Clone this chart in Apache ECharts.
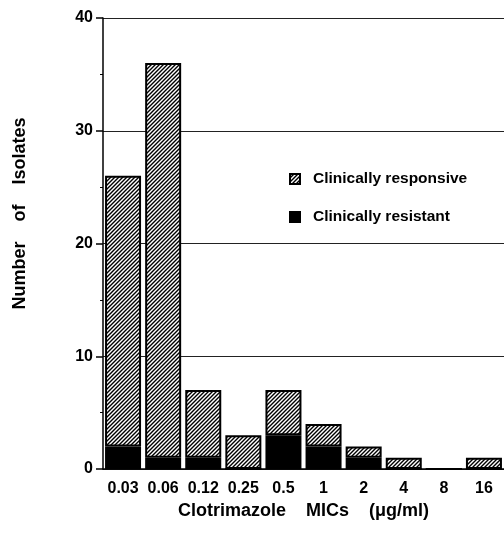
<!DOCTYPE html>
<html>
<head>
<meta charset="utf-8">
<script src="https://cdn.jsdelivr.net/npm/echarts@6/dist/echarts.min.js"></script>
<style>
  html, body { margin: 0; padding: 0; background: #fff; }
  #chart { width: 504px; height: 548px; }
</style>
</head>
<body>
<div id="chart"></div>
<script>
const categories = ['0.03', '0.06', '0.12', '0.25', '0.5', '1', '2', '4', '8', '16']
// stacked: resistant at the bottom, responsive on top
const resistant = [2, 1, 1, 0, 3, 2, 1, 0, 0, 0]
const responsive = [24, 35, 6, 3, 4, 2, 1, 1, 0, 1]

const FONT = '"Liberation Sans", Arial, sans-serif'

// diagonal hatch used for the responsive bars
const makeHatch = () => {
  const c = document.createElement('canvas')
  c.width = 4
  c.height = 4
  const ctx = c.getContext('2d')
  ctx.fillStyle = '#fff'
  ctx.fillRect(0, 0, 4, 4)
  ctx.strokeStyle = '#000'
  ctx.lineWidth = 1.4
  ctx.beginPath()
  ctx.moveTo(0, 4)
  ctx.lineTo(4, 0)
  ctx.moveTo(-1, 1)
  ctx.lineTo(1, -1)
  ctx.moveTo(3, 5)
  ctx.lineTo(5, 3)
  ctx.stroke()
  return c
}

const chart = echarts.init(document.getElementById('chart'))

chart.setOption({
  animation: false,
  backgroundColor: '#fff',
  grid: { left: 103, right: 0, top: 18, bottom: 79 },
  legend: {
    orient: 'vertical',
    left: 284,
    top: 166,
    itemGap: 22,
    itemWidth: 10,
    itemHeight: 10,
    icon: 'rect',
    data: ['Clinically responsive', 'Clinically resistant'],
    textStyle: { fontFamily: FONT, fontWeight: 'bold', fontSize: 15.5, color: '#000', padding: [0, 0, 0, 8] }
  },
  xAxis: {
    type: 'category',
    data: categories,
    name: 'Clotrimazole    MICs    (\u03bcg/ml)',
    nameLocation: 'middle',
    nameGap: 33,
    nameTextStyle: { fontFamily: FONT, fontWeight: 'bold', fontSize: 18, color: '#000' },
    axisLine: { lineStyle: { color: '#000', width: 1.5 } },
    axisTick: { alignWithLabel: true, length: 5, lineStyle: { color: '#000', width: 1.5 } },
    axisLabel: { interval: 0, margin: 12, fontFamily: FONT, fontWeight: 'bold', fontSize: 16, color: '#000' }
  },
  yAxis: {
    type: 'value',
    min: 0,
    max: 40,
    interval: 10,
    name: 'Number    of    Isolates',
    nameLocation: 'middle',
    nameGap: 74,
    nameTextStyle: { fontFamily: FONT, fontWeight: 'bold', fontSize: 18, color: '#000', padding: [0, 0, 0, 60] },
    axisLine: { show: true, lineStyle: { color: '#000', width: 1.5 } },
    axisTick: { show: true, length: 7, lineStyle: { color: '#000', width: 1.5 } },
    minorTick: { show: true, splitNumber: 2, length: 3, lineStyle: { color: '#000', width: 1 } },
    axisLabel: { margin: 10, fontFamily: FONT, fontWeight: 'bold', fontSize: 16, color: '#000' },
    splitLine: { show: true, lineStyle: { color: '#222', width: 1 } }
  },
  series: [
    {
      name: 'Clinically resistant',
      type: 'bar',
      stack: 'total',
      barWidth: 36,
      data: resistant,
      itemStyle: { color: '#000', borderColor: '#000', borderWidth: 2 }
    },
    {
      name: 'Clinically responsive',
      type: 'bar',
      stack: 'total',
      barWidth: 36,
      data: responsive,
      itemStyle: {
        color: { image: makeHatch(), repeat: 'repeat' },
        borderColor: '#000',
        borderWidth: 2
      }
    }
  ]
})
</script>
</body>
</html>
